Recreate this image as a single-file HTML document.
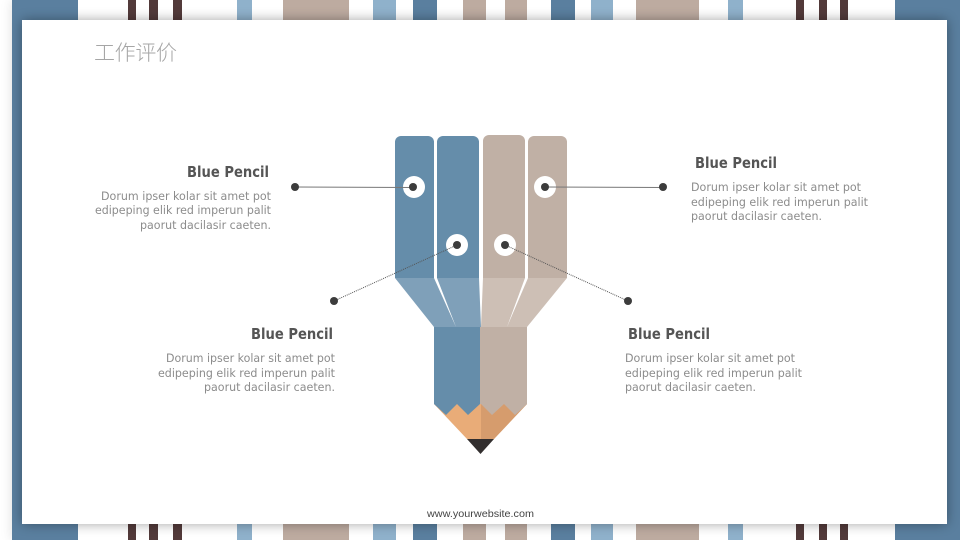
<!DOCTYPE html>
<html><head><meta charset="utf-8"><style>
html,body{margin:0;padding:0;background:#fff}
#w{position:relative;width:960px;height:540px;overflow:hidden;background:#fff}
svg{position:absolute;left:0;top:0}
.h{font:bold 15.5px "DejaVu Sans",sans-serif;fill:#555}
.b{font:11.5px "DejaVu Sans",sans-serif;fill:#8c8c8c}
</style></head><body><div id="w">
<svg width="960" height="540" viewBox="0 0 960 540">
<defs>
<filter id="s" x="-5%" y="-5%" width="110%" height="110%"><feGaussianBlur stdDeviation="6"/></filter>
</defs>
<rect x="12" y="0" width="948" height="540" fill="#000" opacity=".12" filter="url(#s)"/>
<rect x="12" y="0" width="948" height="540" fill="#fff"/>
<g fill="#5a7f9f">
<rect x="12" y="0" width="66" height="540"/><rect x="895" y="0" width="65" height="540"/>
<rect x="413" y="0" width="24" height="540"/><rect x="551" y="0" width="24" height="540"/>
</g>
<g fill="#8fb1cb">
<rect x="237" y="0" width="15" height="540"/><rect x="373" y="0" width="23" height="540"/>
<rect x="591" y="0" width="22" height="540"/><rect x="728" y="0" width="15" height="540"/>
</g>
<g fill="#bdaba0">
<rect x="283" y="0" width="66" height="540"/><rect x="463" y="0" width="23" height="540"/>
<rect x="505" y="0" width="22" height="540"/><rect x="636" y="0" width="63" height="540"/>
</g>
<g fill="#523a3a">
<rect x="128" y="0" width="8" height="540"/><rect x="149" y="0" width="9" height="540"/><rect x="173" y="0" width="9" height="540"/>
<rect x="796" y="0" width="8" height="540"/><rect x="819" y="0" width="8" height="540"/><rect x="840" y="0" width="8" height="540"/>
</g>
<rect x="22" y="20" width="925" height="504" fill="#000" opacity=".36" filter="url(#s)"/>
<rect x="22" y="20" width="925" height="504" fill="#fff"/>

<text x="94" y="60" font-family="'Liberation Sans','Noto Sans CJK SC',sans-serif" font-size="21" font-weight="300" fill="#a6a6a6" textLength="83">工作评价</text>

<path d="M395 278V142a6 6 0 0 1 6-6h27a6 6 0 0 1 6 6V278Z" fill="#658daa"/>
<path d="M437 278V142a6 6 0 0 1 6-6h30a6 6 0 0 1 6 6V278Z" fill="#658daa"/>
<path d="M483 278V141a6 6 0 0 1 6-6h30a6 6 0 0 1 6 6V278Z" fill="#c0b0a5"/>
<path d="M528 278V142a6 6 0 0 1 6-6h27a6 6 0 0 1 6 6V278Z" fill="#c0b0a5"/>
<polygon points="395,278 481,278 481,327 434,327" fill="#7fa0b9"/>
<polygon points="481,278 567,278 527,327 481,327" fill="#cdbfb5"/>
<polygon points="434,278 437,278 456,327" fill="#fff"/>
<polygon points="479,278 483,278 481,327" fill="#fff"/>
<polygon points="525,278 528,278 507,327" fill="#fff"/>
<polygon points="434,404 481,390 527,404 494,439 467,439" fill="#e9ac78"/>
<polygon points="481,390 527,404 494,439 481,439" fill="#d69c6d"/>
<polygon points="467,439 494,439 480.500,454" fill="#322e2e"/>
<polygon points="434,327 480,327 480,404 468,415 457,404 446,415 434,404" fill="#658daa"/>
<polygon points="480,327 527,327 527,404 515,415 504,404 492,415 481,404 480,404" fill="#c0b0a5"/>

<g fill="#fff"><circle cx="414" cy="187" r="11"/><circle cx="545" cy="187" r="11"/><circle cx="457" cy="245" r="11"/><circle cx="505" cy="245" r="11"/></g>
<line x1="295" y1="187" x2="413" y2="187.500" stroke="#777" stroke-width="1"/>
<line x1="545" y1="187" x2="663" y2="187.500" stroke="#777" stroke-width="1"/>
<line x1="334" y1="301" x2="457" y2="245" stroke="#555" stroke-width="1" stroke-dasharray="1 1"/>
<line x1="628" y1="301" x2="505" y2="245" stroke="#555" stroke-width="1" stroke-dasharray="1 1"/>
<g fill="#3c3c3c">
<circle cx="413" cy="187" r="4"/><circle cx="545" cy="187" r="4"/><circle cx="457" cy="245" r="4"/><circle cx="505" cy="245" r="4"/>
<circle cx="295" cy="187" r="4"/><circle cx="663" cy="187" r="4"/><circle cx="334" cy="301" r="4"/><circle cx="628" cy="301" r="4"/>
</g>

<text class="h" x="187" y="177" textLength="82" lengthAdjust="spacingAndGlyphs">Blue Pencil</text>
<text class="b" x="101" y="200" textLength="170" lengthAdjust="spacingAndGlyphs">Dorum ipser kolar sit amet pot</text>
<text class="b" x="95" y="214" textLength="176" lengthAdjust="spacingAndGlyphs">edipeping elik red imperun palit</text>
<text class="b" x="140" y="229" textLength="131" lengthAdjust="spacingAndGlyphs">paorut dacilasir caeten.</text>

<text class="h" x="695" y="168" textLength="82" lengthAdjust="spacingAndGlyphs">Blue Pencil</text>
<text class="b" x="691" y="191" textLength="170" lengthAdjust="spacingAndGlyphs">Dorum ipser kolar sit amet pot</text>
<text class="b" x="691" y="206" textLength="177" lengthAdjust="spacingAndGlyphs">edipeping elik red imperun palit</text>
<text class="b" x="691" y="220" textLength="131" lengthAdjust="spacingAndGlyphs">paorut dacilasir caeten.</text>

<text class="h" x="251" y="339" textLength="82" lengthAdjust="spacingAndGlyphs">Blue Pencil</text>
<text class="b" x="166" y="362" textLength="169" lengthAdjust="spacingAndGlyphs">Dorum ipser kolar sit amet pot</text>
<text class="b" x="158" y="377" textLength="177" lengthAdjust="spacingAndGlyphs">edipeping elik red imperun palit</text>
<text class="b" x="204" y="391" textLength="131" lengthAdjust="spacingAndGlyphs">paorut dacilasir caeten.</text>

<text class="h" x="628" y="339" textLength="82" lengthAdjust="spacingAndGlyphs">Blue Pencil</text>
<text class="b" x="625" y="362" textLength="170" lengthAdjust="spacingAndGlyphs">Dorum ipser kolar sit amet pot</text>
<text class="b" x="625" y="377" textLength="177" lengthAdjust="spacingAndGlyphs">edipeping elik red imperun palit</text>
<text class="b" x="625" y="391" textLength="131" lengthAdjust="spacingAndGlyphs">paorut dacilasir caeten.</text>

<text x="427" y="517" font-family="'Liberation Sans',sans-serif" font-size="10.500" fill="#444" textLength="107" lengthAdjust="spacingAndGlyphs">www.yourwebsite.com</text>
</svg>
</div></body></html>
